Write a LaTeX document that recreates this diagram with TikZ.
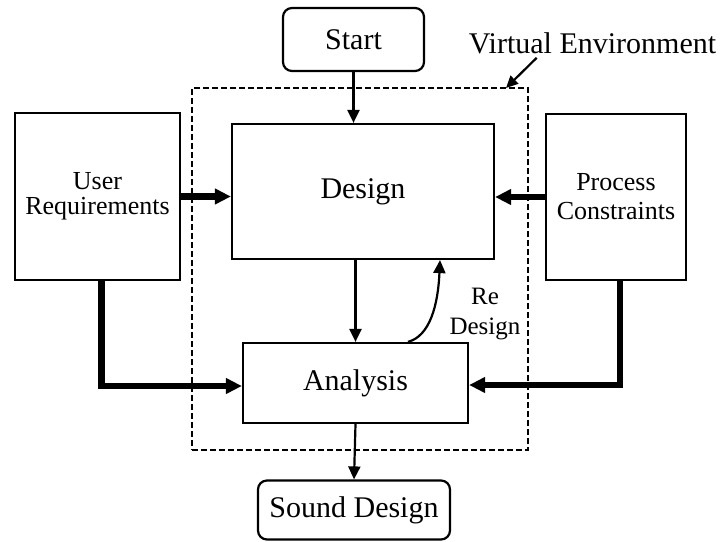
\documentclass[tikz,border=0pt]{standalone}
\usepackage{fontspec}
\setmainfont{Liberation Serif}
\usetikzlibrary{arrows.meta,calc}

\tikzset{
  box/.style={draw, line width=2.2pt, inner sep=0pt, align=center},
  rbox/.style={box, rounded corners=9pt},
  thin arrow/.style={line width=2.2pt, -{Triangle[length=13pt,width=12pt]}},
  thick arrow/.style={line width=6.5pt, -{Triangle[length=16pt,width=15pt]}},
  envbox/.style={draw, line width=2.2pt, dash pattern=on 6pt off 3pt, inner sep=0pt},
  bigtext/.style={font=\fontsize{30}{32}\selectfont},
}

\begin{document}
\begin{tikzpicture}[x=1pt, y=-1pt]
  \useasboundingbox (0,0) rectangle (720,541);

  % dashed outline of the virtual environment
  \node[envbox, minimum width=336pt, minimum height=362pt] (venv) at (360,269) {};

  % main flow boxes
  \node[rbox, bigtext, minimum width=141pt, minimum height=63pt] (start) at (353.5,39.5) {Start};
  \node[box, bigtext, minimum width=262pt, minimum height=135pt] (design) at (363,191.5) {Design};
  \node[box, bigtext, minimum width=225pt, minimum height=80pt] (analysis) at (355.5,383) {Analysis};
  \node[rbox, bigtext, minimum width=192pt, minimum height=59pt] (sound) at (354,510) {Sound Design};

  % side inputs
  \node[box, font=\fontsize{26}{25}\selectfont, minimum width=165pt, minimum height=167pt] (ur) at (97.5,196.5) {User\\Requirements};
  \node[box, font=\fontsize{26}{29}\selectfont, minimum width=140pt, minimum height=166pt] (pc) at (616,197) {Process\\Constraints};

  % labels
  \node[bigtext, inner sep=0pt] (velabel) at (592.5,43) {Virtual Environment};
  \node[font=\fontsize{25}{30}\selectfont, align=center, inner sep=0pt] (relabel) at (485,314) {Re\\Design};

  % flow connectors
  \draw[thin arrow] (start.south) -- (start.south |- design.north);
  \draw[thin arrow] (analysis.north |- design.south) -- (analysis.north);
  \draw[thin arrow] (analysis.south) -- (sound.north);

  % redesign feedback
  \coordinate (rdfrom) at ([xshift=52.5pt]analysis.north);
  \coordinate (rdto) at ([xshift=77pt]design.south);
  \draw[thin arrow] (rdfrom) .. controls ($(rdfrom)+(22,-6)$) and ($(rdto)+(-2,45)$) .. (rdto);

  % pointer to the dashed outline
  \coordinate (vetip) at (506,88);
  \draw[line width=2.2pt, -{Triangle[length=12pt,width=11pt]}] ($(velabel.south west)+(68,4)$) -- (vetip);

  % side inputs feeding the design and analysis
  \draw[thick arrow] (ur.east) -- (ur.east -| design.west);
  \draw[thick arrow] (pc.west) -- (pc.west -| design.east);
  \draw[thick arrow] ([xshift=4pt]ur.south) |- ([yshift=-3pt]analysis.west);
  \draw[thick arrow] ([xshift=4pt]pc.south) |- ([yshift=-2pt]analysis.east);
\end{tikzpicture}
\end{document}
